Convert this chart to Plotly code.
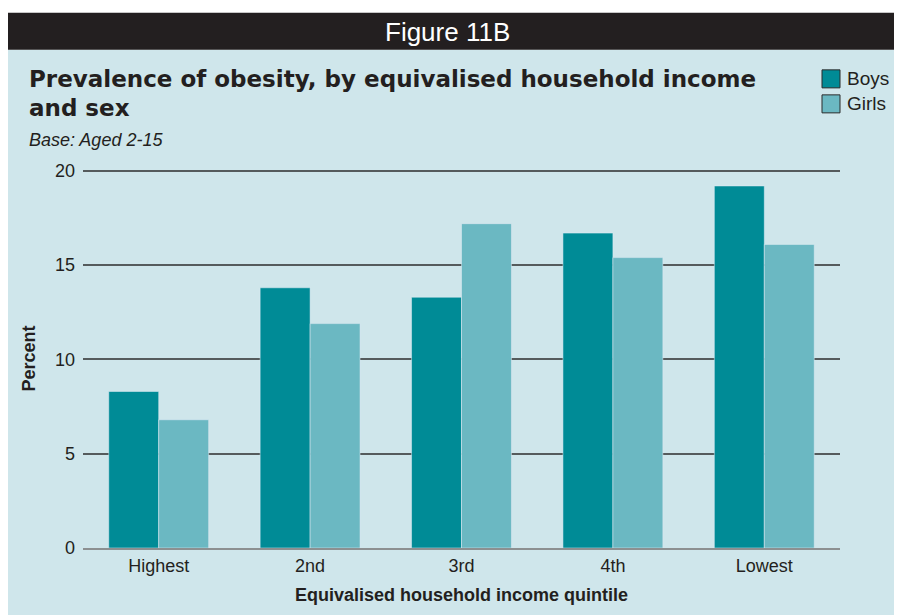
import plotly.graph_objects as go

categories = ["Highest", "2nd", "3rd", "4th", "Lowest"]
boys = [8.3, 13.8, 13.3, 16.7, 19.2]
girls = [6.8, 11.9, 17.2, 15.4, 16.1]
y_ticks = [0, 5, 10, 15, 20]
series_names = ["Boys", "Girls"]

W, H = 902, 615
OFF = 8  # page body offset
# plot area in page pixels
X0, X1 = 83, 840
Y0_PIX, Y20_PIX = 548, 171
YMAX = 20.1
unit = (Y0_PIX - Y20_PIX) / 20.0
PH = YMAX * unit
PW = X1 - X0
ML = X0 - OFF
MT = (Y0_PIX - OFF) - PH
MR = W - ML - PW
MB = H - MT - PH


def px(x):
    return (x - OFF - ML) / PW


def py(y):
    return ((Y0_PIX) - y) / PH


FONT = "Liberation Sans, Arial, sans-serif"
TITLE_FONT = "DejaVu Sans, Liberation Sans, sans-serif"
TXT = "#231f20"
BOYS_C = "#008b96"
GIRLS_C = "#6bb8c2"

fig = go.Figure()
fig.add_trace(go.Bar(name=series_names[0], x=categories, y=boys, marker_color=BOYS_C))
fig.add_trace(go.Bar(name=series_names[1], x=categories, y=girls, marker_color=GIRLS_C))

shapes = [
    dict(type="rect", xref="paper", yref="paper", x0=px(7), x1=px(910), y0=py(620), y1=py(50),
         fillcolor="#cfe6eb", line_width=0, layer="below"),
    dict(type="rect", xref="paper", yref="paper", x0=px(7), x1=px(910), y0=py(50), y1=py(13),
         fillcolor="#231f20", line_width=0, layer="below"),
]

annotations = [
    dict(text="Figure 11B", xref="paper", yref="paper", x=px(447), y=py(32), xanchor="center",
         yanchor="middle", showarrow=False, font=dict(family=FONT, size=26, color="white")),
    dict(text="<b>Prevalence of obesity, by equivalised household income</b>",
         xref="paper", yref="paper", x=px(27), y=py(79), xanchor="left", yanchor="middle",
         showarrow=False, font=dict(family=TITLE_FONT, size=23, color=TXT)),
    dict(text="<b>and sex</b>",
         xref="paper", yref="paper", x=px(27), y=py(108), xanchor="left", yanchor="middle",
         showarrow=False, font=dict(family=TITLE_FONT, size=23, color=TXT)),
    dict(text="<i>Base: Aged 2-15</i>", xref="paper", yref="paper", x=px(27), y=py(140),
         xanchor="left", yanchor="middle", showarrow=False,
         font=dict(family=FONT, size=18, color=TXT)),
]

# legend (manual swatches)
leg_y = [79, 104]
leg_c = [BOYS_C, GIRLS_C]
for name, cy, col in zip(series_names, leg_y, leg_c):
    shapes.append(dict(type="rect", xref="paper", yref="paper", x0=px(822), x1=px(840),
                       y0=py(cy + 9), y1=py(cy - 9), fillcolor=col,
                       line=dict(color="#2b2b2b", width=1)))
    annotations.append(dict(text=name, xref="paper", yref="paper", x=px(845), y=py(cy),
                            xanchor="left", yanchor="middle", showarrow=False,
                            font=dict(family=FONT, size=19, color=TXT)))

fig.update_layout(
    width=W, height=H,
    margin=dict(l=ML, r=MR, t=MT, b=MB, pad=0),
    paper_bgcolor="white", plot_bgcolor="rgba(0,0,0,0)",
    barmode="group", bargap=0.34, bargroupgap=0,
    font=dict(family=FONT, size=18, color=TXT),
    shapes=shapes, annotations=annotations,
    showlegend=False,
    xaxis=dict(showgrid=False, showline=True, linecolor="#8c9091", linewidth=2,
               ticks="", tickfont=dict(size=18), range=[-0.5, 4.5],
               title=dict(text="<b>Equivalised household income quintile</b>",
                          font=dict(size=18), standoff=14)),
    yaxis=dict(range=[0, YMAX], tickvals=y_ticks, showgrid=True, gridcolor="#555b5c",
               gridwidth=1.5, zeroline=False, showline=False, ticks="",
               ticklabelstandoff=7, tickfont=dict(size=18),
               title=dict(text="<b>Percent</b>", font=dict(size=18), standoff=14)),
)

fig.write_html("out.html")
